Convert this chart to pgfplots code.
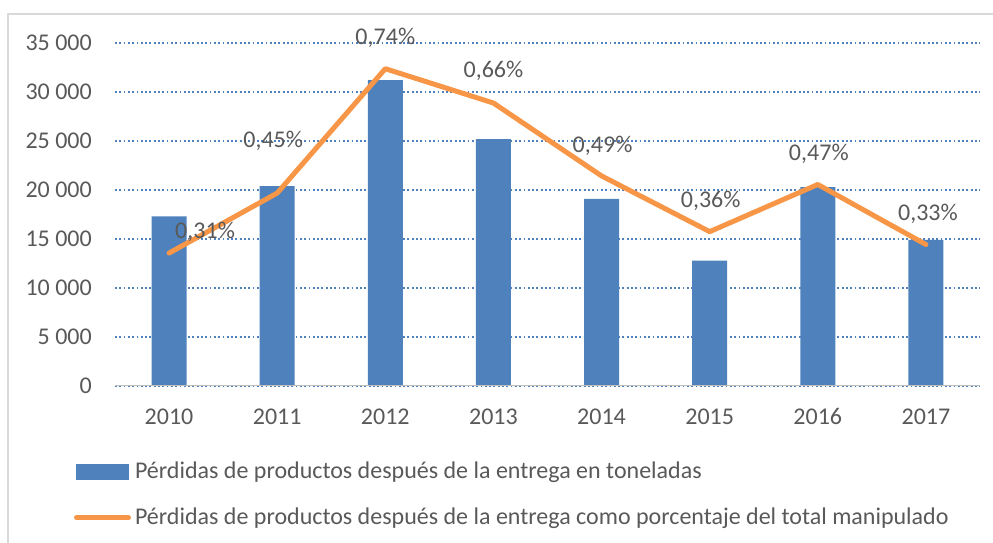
\documentclass[border=0pt]{standalone}
\usepackage{fontspec}
\setmainfont{Carlito}
\usepackage{pgfplots}
\pgfplotsset{compat=1.18}
\definecolor{barblue}{RGB}{79,129,189}
\definecolor{lineorange}{RGB}{247,150,70}
\definecolor{textgray}{RGB}{89,89,89}
\definecolor{gridblue}{RGB}{79,129,189}
\definecolor{framegray}{RGB}{217,217,217}
\definecolor{axisgray}{RGB}{191,191,191}
\begin{document}
\fontsize{24}{28}\selectfont
\begin{tikzpicture}[x=1pt,y=1pt]
\useasboundingbox (0,0) rectangle (993,543);
\draw[line width=2pt, framegray] (8,0) -- (8,529) -- (993,529);
\begin{axis}[
  at={(115pt,157pt)}, anchor=south west,
  scale only axis, width=865pt, height=343pt,
  xmin=-0.5, xmax=7.5, ymin=0, ymax=35000,
  axis line style={draw=none},
  scaled y ticks=false,
  xtick={0,...,7},
  xticklabels={2010,2011,2012,2013,2014,2015,2016,2017},
  ytick={0,5000,10000,15000,20000,25000,30000,35000},
  yticklabels={0,5 000,10 000,15 000,20 000,25 000,30 000,35 000},
  major tick length=0pt,
  tick style={draw=none},
  /pgf/number format/assume math mode=true,
  ymajorgrids,
  major grid style={gridblue, line width=2pt, dash pattern=on 1.8pt off 2.5pt},
  xticklabel style={anchor=north, inner sep=0pt, text height=15pt, text depth=0pt, yshift=-23pt, text=textgray, font=\fontsize{24}{28}\selectfont},
  yticklabel style={anchor=east, inner sep=0pt, text height=15pt, text depth=0pt, xshift=-23pt, text=textgray, font=\fontsize{24}{28}\selectfont},
  legend cell align=left,
  legend style={at={(-0.0474,-0.22)}, anchor=north west, draw=none, fill=none,
    inner sep=0pt, outer sep=0pt, row sep=26pt, column sep=0pt,
    nodes={inner sep=0pt, text=textgray, font=\fontsize{24}{28}\selectfont}},
]
\addplot[ybar, bar width=35pt, fill=barblue, draw=none,
  legend image code/.code={\path[draw=none,fill=none] (0pt,-8pt) rectangle (61pt,8pt); \fill[barblue] (2pt,-8pt) rectangle (55pt,8pt);}]
  coordinates {(0,17300) (1,20400) (2,31200) (3,25200) (4,19100) (5,12800) (6,20300) (7,14900)};
\addlegendentry{Pérdidas de productos después de la entrega en toneladas}
\addlegendimage{lineorange, line width=5pt, line cap=round,
  legend image code/.code={\path[draw=none,fill=none] (0pt,-8pt) rectangle (61pt,8pt); \draw[lineorange, line width=5pt, line cap=round] (2.5pt,0pt) -- (54.5pt,0pt);}}
\addlegendentry{Pérdidas de productos después de la entrega como porcentaje del total manipulado}
\draw[axisgray, line width=2.5pt] (axis cs:-0.5,0) -- (axis cs:7.5,0);
\end{axis}
\begin{axis}[
  at={(115pt,157pt)}, anchor=south west,
  scale only axis, width=865pt, height=343pt,
  xmin=-0.5, xmax=7.5, ymin=0, ymax=0.8,
  hide axis, clip=false,
]
\addplot[lineorange, line width=5pt, line join=round, line cap=round]
  coordinates {(0,0.31) (1,0.45) (2,0.74) (3,0.66) (4,0.49) (5,0.36) (6,0.47) (7,0.33)};
\begin{scope}[every node/.style={text=textgray, font=\fontsize{24}{28}\selectfont, inner sep=0pt, anchor=center}]
\node[xshift=36pt, yshift=21pt] at (axis cs:0,0.31) {0,31\%};
\node[xshift=-4pt, yshift=52pt] at (axis cs:1,0.45) {0,45\%};
\node[yshift=31pt] at (axis cs:2,0.74) {0,74\%};
\node[yshift=32pt] at (axis cs:3,0.66) {0,66\%};
\node[xshift=1pt, yshift=30pt] at (axis cs:4,0.49) {0,49\%};
\node[xshift=1pt, yshift=31pt] at (axis cs:5,0.36) {0,36\%};
\node[xshift=1pt, yshift=31pt] at (axis cs:6,0.47) {0,47\%};
\node[xshift=2pt, yshift=31pt] at (axis cs:7,0.33) {0,33\%};
\end{scope}
\end{axis}
\end{tikzpicture}
\end{document}
